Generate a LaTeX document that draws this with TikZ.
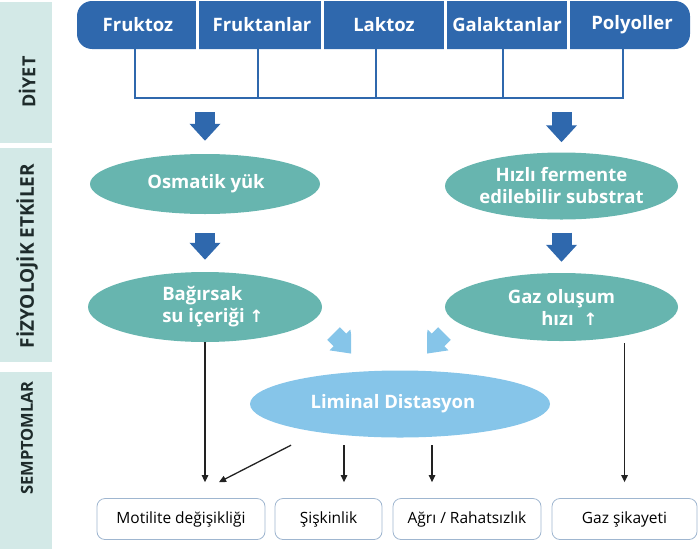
\documentclass[tikz,border=0pt]{standalone}
\usepackage{fontspec}
\setmainfont{Open Sans}
\newfontfamily\symfont{DejaVu Sans}
\usetikzlibrary{shapes.geometric,arrows.meta,calc}
\definecolor{barblue}{HTML}{2F68AD}
\definecolor{ellteal}{HTML}{67B5AF}
\definecolor{limblue}{HTML}{86C5E9}
\definecolor{sidebg}{HTML}{D3E9E7}
\definecolor{boxline}{HTML}{9FB6D0}
\definecolor{linkgray}{HTML}{222222}
\definecolor{labeltext}{HTML}{1E2B2B}
\tikzset{
  sidelabel/.style={rotate=90, text=labeltext, inner sep=0pt},
  segtext/.style={text=white, font=\bfseries\fontsize{18.5}{20}\selectfont, minimum height=48pt, inner sep=0pt},
  ell/.style={ellipse, fill=ellteal, inner sep=0pt},
  elltext/.style={text=white, font=\bfseries\fontsize{18.5}{22}\selectfont, align=center, inner sep=0pt},
  bracket/.style={draw=barblue, line width=1.4pt},
  bigarrow/.style={draw=barblue, line width=20pt, -{Triangle[width=30pt,length=17pt]}},
  lightarrow/.style={draw=limblue, line width=18pt, -{Triangle[width=28pt,length=20pt]}},
  linkarrow/.style={draw=linkgray, line width=1.3pt, -{Triangle[width=6.5pt,length=7pt]}},
  symbox/.style={draw=boxline, line width=0.8pt, rounded corners=8pt, minimum height=41pt, inner sep=0pt, font=\fontsize{15.5}{17}\selectfont, text=black}
}
\newcommand\upsym{{\symfont\bfseries\fontsize{17}{17}\selectfont ↑}}
\begin{document}
\begin{tikzpicture}[x=1pt,y=-1pt]
\useasboundingbox (0,0) rectangle (700,549);
% side bars
\fill[sidebg] (0,2) rectangle (52,143);
\fill[sidebg] (0,148) rectangle (52,362);
\fill[sidebg] (0,372) rectangle (52,549);
\node[sidelabel, font=\bfseries\fontsize{18}{18}\selectfont] (diyet) at (27,82) {DİYET};
\node[sidelabel, font=\bfseries\fontsize{19}{19}\selectfont] (fizyo) at (27,256) {FİZYOLOJİK ETKİLER};
\node[sidelabel, font=\bfseries\fontsize{16.5}{16.5}\selectfont] (semp) at (27,438) {SEMPTOMLAR};
% top bar
\fill[barblue, rounded corners=15pt] (77,1) rectangle (690,49);
\node[segtext] (fruktoz) at (138,25) {Fruktoz};
\node[segtext] (fruktan) at (262,25) {Fruktanlar};
\node[segtext] (laktoz) at (384,25) {Laktoz};
\node[segtext] (galak) at (507,25) {Galaktanlar};
\node[segtext] (poly) at (632,25) {Polyoller};
\foreach \sx in {197,322,445,568}{\draw[white, line width=3pt] (\sx,0) -- (\sx,50);}
% bracket
\coordinate (brk) at (0,98);
\coordinate (l1) at ([xshift=-3pt]fruktoz.south);
\coordinate (l2) at ([xshift=-4pt]fruktan.south);
\coordinate (l3) at ([xshift=-8pt]laktoz.south);
\coordinate (l4) at ([xshift=-4pt]galak.south);
\coordinate (l5) at ([xshift=-9pt]poly.south);
\draw[bracket] (l1) |- (l5 |- brk) -- (l5);
\draw[bracket] (l2) -- (l2 |- brk);
\draw[bracket] (l3) -- (l3 |- brk);
\draw[bracket] (l4) -- (l4 |- brk);
% ellipses
\node[ell, minimum width=230pt, minimum height=60pt] (osm) at (205,184) {};
\node[elltext] (osmt) at (206,184) {Osmatik yük};
\node[ell, minimum width=233pt, minimum height=67pt] (hiz) at (561.5,186) {};
\node[elltext] (hizt) at (561.5,186) {Hızlı fermente\\edilebilir substrat};
\node[ell, minimum width=234pt, minimum height=70pt] (bag) at (205,307) {};
\node[elltext, align=left] (bagt) at (213,307) {Bağırsak\\su içeriği~\upsym};
\node[ell, minimum width=233pt, minimum height=68pt] (gaz) at (561.5,307) {};
\node[elltext] (gazt) at (561.5,307) {Gaz oluşum\\\hspace*{16pt}hızı~~\upsym};
\node[ellipse, fill=limblue, inner sep=0pt, minimum width=300pt, minimum height=67pt] (lim) at (400,404) {};
\node[elltext] (limt) at (393,404) {Liminal Distasyon};
% big arrows
\draw[bigarrow, shorten <=14pt, shorten >=13pt] (osm.north |- brk) -- (osm.north);
\draw[bigarrow, shorten <=14pt, shorten >=10pt] (hiz.north |- brk) -- (hiz.north);
\draw[bigarrow, shorten <=19pt, shorten >=12pt] (osm.south) -- (bag.north);
\draw[bigarrow, shorten <=13pt, shorten >=11pt] (hiz.south) -- (gaz.north);
% light arrows toward liminal
\coordinate (la1) at (333.6,333.6);
\coordinate (la2) at (354.1,354.1);
\coordinate (la3) at (444.4,333.6);
\coordinate (la4) at (423.9,354.1);
\begin{scope}
\clip (300,300) rectangle (351,353);
\draw[lightarrow] (la1) -- (la2);
\end{scope}
\begin{scope}
\clip (427,300) rectangle (480,353);
\draw[lightarrow] (la3) -- (la4);
\end{scope}
% symptom boxes
\node[symbox, minimum width=168pt] (mot) at (181,519) {Motilite değişikliği};
\node[symbox, minimum width=107pt] (sis) at (328.5,519) {Şişkinlik};
\node[symbox, minimum width=148pt] (agri) at (467,519) {Ağrı / Rahatsızlık};
\node[symbox, minimum width=145pt] (gazs) at (624.5,519) {Gaz şikayeti};
% thin arrows
\coordinate (s1) at ([xshift=-109pt,yshift=-7.5pt]lim.south);
\coordinate (e1) at ([xshift=38pt,yshift=16pt]mot.north);
\coordinate (s2) at ([xshift=-56pt,yshift=-7.5pt]lim.south);
\coordinate (s3) at ([xshift=32pt,yshift=-7.5pt]lim.south);
\coordinate (s4) at ([xshift=63pt,yshift=-2pt]gaz.south);
\draw[linkarrow, shorten >=16pt] (bag.south) -- (bag.south |- mot.north);
\draw[linkarrow] (s1) -- (e1);
\draw[linkarrow, shorten >=16pt] (s2) -- (s2 |- sis.north);
\draw[linkarrow, shorten >=16pt] (s3) -- (s3 |- agri.north);
\draw[linkarrow, shorten >=16pt] (s4) -- (s4 |- gazs.north);
\end{tikzpicture}
\end{document}
